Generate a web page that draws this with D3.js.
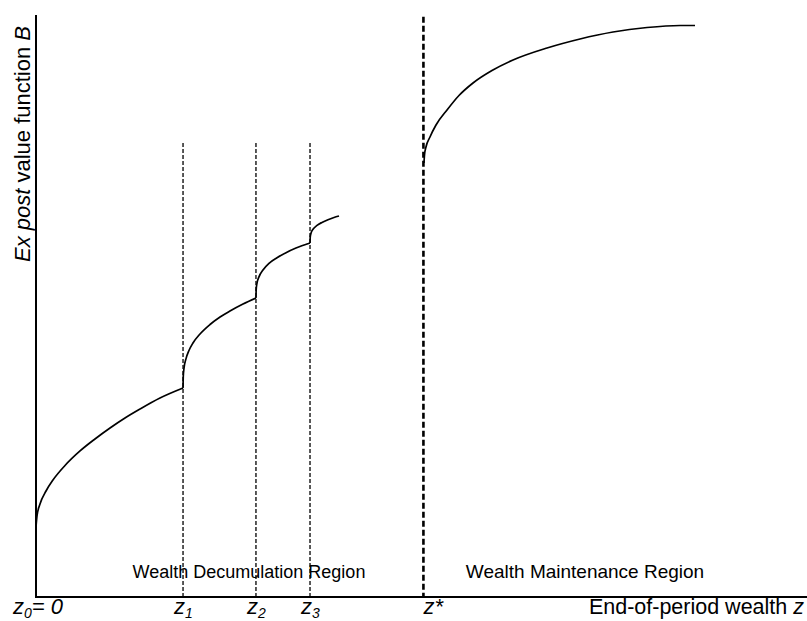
<!DOCTYPE html>
<html>
<head>
<meta charset="utf-8">
<script src="https://cdn.jsdelivr.net/npm/d3@7"></script>
<style>
  html, body { margin: 0; padding: 0; background: #fff; }
  svg { display: block; font-family: "Liberation Sans", Arial, sans-serif; }
</style>
</head>
<body>
<div id="main"></div>
<script>
// wealth thresholds (x, arbitrary units 0..100)
const zValues = [19.07, 28.53, 35.54];
const zSubs = ["1", "2", "3"];
const zStar = 50.25;
const zDashTop = 78.0;
const zStarDashTop = 99.7;

// value function B, one piece between each pair of thresholds
const seg1 = [[0, 12.03], [0.13, 13.92], [0.52, 15.98], [1.3, 18.21], [2.2, 20.1], [3.76, 22.59],
  [5.71, 25.09], [7.65, 27.15], [9.6, 29.04], [11.54, 30.76], [13.49, 32.3], [16.08, 34.19], [19.07, 35.91]];
const seg2 = [[19.07, 35.91], [19.1, 37.87], [19.2, 39.35], [19.46, 40.96], [19.84, 42.35], [20.36, 43.64],
  [21.27, 45.19], [22.57, 46.82], [23.87, 48.11], [25.16, 49.14], [26.85, 50.34], [28.53, 51.37]];
const seg3 = [[28.53, 51.37], [28.56, 52.85], [28.66, 53.9], [28.92, 55.01], [29.44, 56.19], [30.22, 57.34],
  [31.26, 58.3], [32.43, 59.16], [33.72, 59.95], [35.54, 60.82]];
const seg4 = [[35.54, 60.82], [35.57, 61.87], [35.67, 62.5], [35.93, 63.18], [36.45, 63.85], [37.09, 64.36],
  [37.87, 64.83], [38.65, 65.2], [39.3, 65.46]];
const seg5 = [[50.32, 74.57], [50.39, 75.95], [50.58, 77.32], [51.1, 79.04], [51.88, 81.1], [53.31, 83.68],
  [54.86, 86.17], [56.68, 88.32], [59.14, 90.46], [61.87, 92.27], [66.28, 94.33], [70.56, 95.88],
  [74.84, 97.08], [79.25, 97.85], [83.53, 98.2], [85.47, 98.2]];

const width = 807;
const height = 621;

const x = d3.scaleLinear().domain([0, 100]).range([36, 807]);
const y = d3.scaleLinear().domain([0, 100]).range([597, 15]);

const svg = d3.select("#main")
  .append("svg")
  .attr("width", width)
  .attr("height", height);

// threshold lines
svg.selectAll(".zline")
  .data(zValues)
  .enter()
  .append("line")
  .attr("class", "zline")
  .attr("x1", d => x(d))
  .attr("x2", d => x(d))
  .attr("y1", y(zDashTop))
  .attr("y2", y(0))
  .attr("stroke", "#000")
  .attr("stroke-width", 1.3)
  .attr("stroke-dasharray", "4,2");

svg.append("line")
  .attr("x1", x(zStar))
  .attr("x2", x(zStar))
  .attr("y1", y(zStarDashTop))
  .attr("y2", y(0))
  .attr("stroke", "#000")
  .attr("stroke-width", 2.6)
  .attr("stroke-dasharray", "6,3");

// curve pieces
const line = d3.line()
  .x(d => x(d[0]))
  .y(d => y(d[1]))
  .curve(d3.curveMonotoneX);

svg.selectAll(".seg")
  .data([seg1, seg2, seg3, seg4, seg5])
  .enter()
  .append("path")
  .attr("class", "seg")
  .attr("d", line)
  .attr("fill", "none")
  .attr("stroke", "#000")
  .attr("stroke-width", 1.7);

// axes
svg.append("line")
  .attr("x1", x(0)).attr("x2", x(0))
  .attr("y1", y(100)).attr("y2", y(0) + 1)
  .attr("stroke", "#000").attr("stroke-width", 2);

svg.append("line")
  .attr("x1", x(0) - 1).attr("x2", x(100))
  .attr("y1", y(0)).attr("y2", y(0))
  .attr("stroke", "#000").attr("stroke-width", 2);

// axis titles
const yTitle = svg.append("text")
  .attr("transform", "translate(30,144) rotate(-90)")
  .attr("text-anchor", "middle")
  .style("font-size", "22px");
yTitle.append("tspan").style("font-style", "italic").text("Ex post");
yTitle.append("tspan").text(" value function ");
yTitle.append("tspan").style("font-style", "italic").text("B");

const xTitle = svg.append("text")
  .attr("x", 804)
  .attr("y", 614)
  .attr("text-anchor", "end")
  .style("font-size", "21.5px");
xTitle.append("tspan").text("End-of-period wealth ");
xTitle.append("tspan").style("font-style", "italic").text("z");

// threshold labels
const z0 = svg.append("text")
  .attr("x", x(0) - 23)
  .attr("y", 614)
  .style("font-size", "22px")
  .style("font-style", "italic");
z0.append("tspan").text("z");
z0.append("tspan").attr("dy", 4).style("font-size", "14px").text("0");
z0.append("tspan").attr("dy", -4).text("= 0");

zValues.forEach((d, i) => {
  const t = svg.append("text")
    .attr("x", x(d) - 9)
    .attr("y", 614)
    .style("font-size", "22px")
    .style("font-style", "italic");
  t.append("tspan").text("z");
  t.append("tspan").attr("dy", 4).style("font-size", "14px").text(zSubs[i]);
});

svg.append("text")
  .attr("x", x(zStar))
  .attr("y", 614)
  .style("font-size", "22px")
  .style("font-style", "italic")
  .text("z*");

// region labels
svg.append("text")
  .attr("x", 249)
  .attr("y", 578)
  .attr("text-anchor", "middle")
  .style("font-size", "18px")
  .text("Wealth Decumulation Region");

svg.append("text")
  .attr("x", 585)
  .attr("y", 578)
  .attr("text-anchor", "middle")
  .style("font-size", "19px")
  .text("Wealth Maintenance Region");
</script>
</body>
</html>
